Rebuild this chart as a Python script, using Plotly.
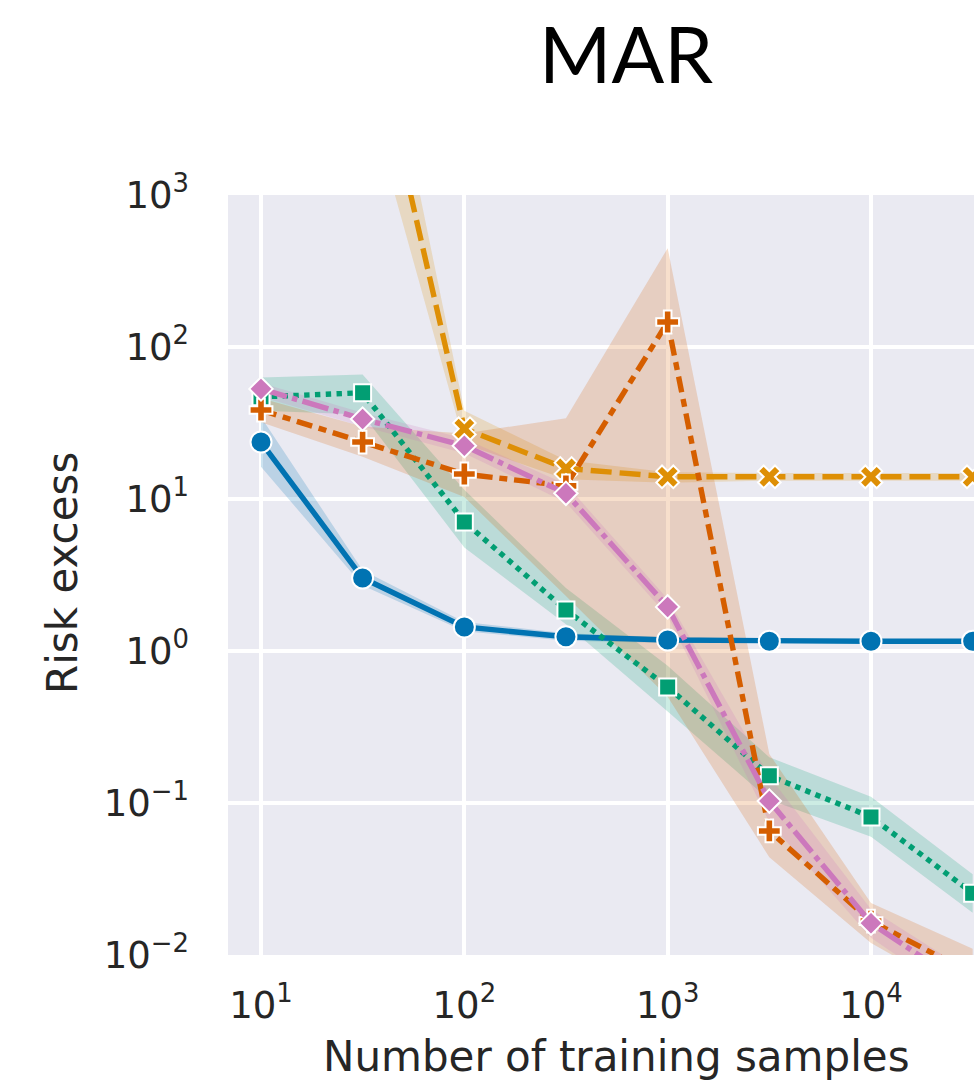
import plotly.graph_objects as go

# ---------------- data ----------------
n_samples = [10, 31.6, 100, 316, 1000, 3162, 10000, 31623]

blue_mean = [23.7, 3.02, 1.44, 1.24, 1.18, 1.16, 1.16, 1.16]
blue_lo   = [16.3, 2.7, 1.35, 1.17, 1.13, 1.12, 1.12, 1.12]
blue_hi   = [34.6, 3.4, 1.55, 1.31, 1.23, 1.20, 1.20, 1.20]

orange_mean = [40000, 24000, 29, 15.9, 14.0, 14.0, 14.0, 14.0]
orange_lo   = [10000, 5800, 23, 13.5, 12.8, 13.2, 13.2, 13.2]
orange_hi   = [150000, 69000, 38, 18, 15.0, 14.8, 14.8, 14.8]

green_mean = [47, 50, 7.07, 1.86, 0.58, 0.151, 0.081, 0.0255]
green_lo   = [38, 36, 4.8, 1.5, 0.40, 0.105, 0.06, 0.019]
green_hi   = [63, 66, 11.5, 2.6, 0.80, 0.20, 0.11, 0.034]

verm_mean = [38.5, 23.7, 14.6, 12.2, 146, 0.0655, 0.0167, 0.0075]
verm_lo   = [32, 19, 10.3, 2.3, 0.5, 0.044, 0.012, 0.005]
verm_hi   = [46, 30, 27, 34, 447, 0.21, 0.022, 0.011]

pink_mean = [53, 33.6, 22.4, 10.9, 1.95, 0.103, 0.0162, 0.0058]
pink_lo   = [47, 30, 20, 9.5, 1.7, 0.075, 0.013, 0.0045]
pink_hi   = [58, 37, 25, 12.5, 2.2, 0.15, 0.020, 0.0075]

x_tickvals = [10, 100, 1000, 10000]
x_ticktext = ["10<sup>1</sup>", "10<sup>2</sup>", "10<sup>3</sup>", "10<sup>4</sup>"]
y_tickvals = [0.01, 0.1, 1, 10, 100, 1000]
y_ticktext = ["10<sup>\u22122</sup>", "10<sup>\u22121</sup>", "10<sup>0</sup>",
              "10<sup>1</sup>", "10<sup>2</sup>", "10<sup>3</sup>"]

# ---------------- style ----------------
LW = 5.4
series = [
    dict(mean=blue_mean, lo=blue_lo, hi=blue_hi, color="#0173b2", rgb="1,115,178",
         dash="solid", symbol="circle", size=21),
    dict(mean=orange_mean, lo=orange_lo, hi=orange_hi, color="#de8f05", rgb="222,143,5",
         dash="21px,8px", symbol="x", size=20),
    dict(mean=green_mean, lo=green_lo, hi=green_hi, color="#029e73", rgb="2,158,115",
         dash="5.4px,5.4px", symbol="square", size=17),
    dict(mean=verm_mean, lo=verm_lo, hi=verm_hi, color="#d55e00", rgb="213,94,0",
         dash="16px,6.8px,8px,6.8px", symbol="cross", size=19),
    dict(mean=pink_mean, lo=pink_lo, hi=pink_hi, color="#cc78bc", rgb="204,120,188",
         dash="27px,5.4px,5.4px,5.4px", symbol="diamond", size=18),
]

fig = go.Figure()
for s in series:
    xs = list(n_samples) + list(n_samples)[::-1]
    ys = list(s["hi"]) + list(s["lo"])[::-1]
    fig.add_trace(go.Scatter(x=xs, y=ys, fill="toself", mode="lines",
                             line=dict(width=0), fillcolor="rgba(%s,0.2)" % s["rgb"],
                             hoverinfo="skip", showlegend=False))
for s in series:
    fig.add_trace(go.Scatter(x=n_samples, y=s["mean"], mode="lines+markers",
                             line=dict(color=s["color"], width=LW, dash=s["dash"]),
                             marker=dict(symbol=s["symbol"], size=s["size"], color=s["color"],
                                         line=dict(color="white", width=2)),
                             showlegend=False))

W, H = 974, 1081
L = 228
T = 195
B = H - 955
R = 0
fig.update_layout(
    width=W, height=H,
    margin=dict(l=L, r=R, t=T, b=B, pad=0),
    paper_bgcolor="white", plot_bgcolor="#eaeaf2",
    font=dict(family="DejaVu Sans", color="#262626"),
    showlegend=False,
)
fig.update_xaxes(type="log", range=[0.8377, 4.5066], tickvals=x_tickvals, ticktext=x_ticktext,
                 showgrid=True, gridcolor="white", gridwidth=3.5, zeroline=False,
                 showline=False, ticks="", tickfont=dict(size=37, color="#262626"),
                 ticklabelstandoff=25)
fig.update_yaxes(type="log", range=[-2, 3], tickvals=y_tickvals, ticktext=y_ticktext,
                 showgrid=True, gridcolor="white", gridwidth=3.5, zeroline=False,
                 showline=False, ticks="", tickfont=dict(size=37, color="#262626"),
                 ticklabelstandoff=38)

pw = W - L - R
ph = H - T - B
def px2paper_x(px):
    return (px - L) / pw
def px2paper_y(py):
    return (H - B - py) / ph

fig.add_annotation(text="Number of training samples", xref="paper", yref="paper",
                   x=px2paper_x(616), y=px2paper_y(1056), xanchor="center", yanchor="middle",
                   showarrow=False, font=dict(size=42, family="DejaVu Sans", color="#262626"))
fig.add_annotation(text="Risk excess", xref="paper", yref="paper", textangle=-90,
                   x=px2paper_x(62), y=px2paper_y(573), xanchor="center", yanchor="middle",
                   showarrow=False, font=dict(size=42, family="DejaVu Sans", color="#262626"))
fig.add_annotation(text="MAR", xref="paper", yref="paper",
                   x=px2paper_x(626), y=px2paper_y(53), xanchor="center", yanchor="middle",
                   showarrow=False, font=dict(size=78, family="Lato", color="black"))

fig.write_html("out.html", config={"displayModeBar": False},
               post_script="document.body.style.margin='0';document.body.style.overflow='hidden';")
